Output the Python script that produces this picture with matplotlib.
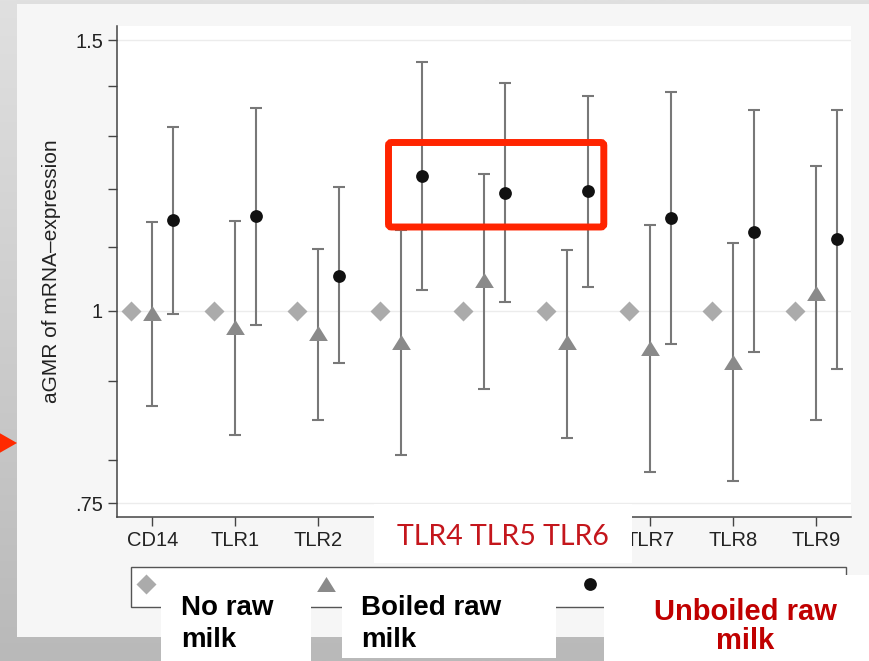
import numpy as np
import matplotlib
matplotlib.use("Agg")
from matplotlib import pyplot as plt
from matplotlib.patches import Rectangle, FancyBboxPatch, Polygon
from matplotlib.colors import LinearSegmentedColormap
from matplotlib.legend import Legend

plt.rcParams['font.family'] = ['Liberation Sans', 'DejaVu Sans']

genes = ["CD14", "TLR1", "TLR2", "TLR4", "TLR5", "TLR6", "TLR7", "TLR8", "TLR9"]

# reference group (no raw milk), aGMR fixed at 1
no_raw = [1.0, 1.0, 1.0, 1.0, 1.0, 1.0, 1.0, 1.0, 1.0]

# boiled raw milk: estimate and 95% CI
boiled = [0.997, 0.977, 0.967, 0.955, 1.048, 0.954, 0.946, 0.927, 1.028]
boiled_lo = [0.867, 0.831, 0.849, 0.806, 0.890, 0.827, 0.786, 0.775, 0.849]
boiled_hi = [1.142, 1.144, 1.098, 1.129, 1.228, 1.096, 1.137, 1.107, 1.242]

# unboiled raw milk: estimate and 95% CI
unboiled = [1.146, 1.152, 1.054, 1.224, 1.193, 1.196, 1.149, 1.126, 1.113]
unboiled_lo = [0.996, 0.979, 0.925, 1.032, 1.013, 1.036, 0.952, 0.940, 0.917]
unboiled_hi = [1.318, 1.355, 1.203, 1.452, 1.407, 1.380, 1.388, 1.350, 1.351]

# genes whose axis labels sit under the red caption box
boxed = ["TLR4", "TLR5", "TLR6"]

W, H = 870, 661
fig = plt.figure(figsize=(W / 100, H / 100), dpi=100)

# slide background
bg = fig.add_axes([0, 0, 1, 1], zorder=-5)
bg.set_xlim(0, W)
bg.set_ylim(H, 0)
bg.axis('off')
grad = np.linspace(0, 1, 256).reshape(-1, 1)
bg_cmap = LinearSegmentedColormap.from_list('bg', ['#e0e0e0', '#cdcdcd', '#b9b9b9'])
bg.imshow(grad, cmap=bg_cmap, extent=(0, W, H, 0), aspect='auto')
bg.add_patch(Rectangle((17, 4), W - 17, 637 - 4, fc='#f6f6f6', ec='none'))
bg.add_patch(Polygon([(-4, 431), (17, 443), (-4, 455)], fc='#ff2a00', ec='none'))

# flattened triangle marker
tri = [(-1, -0.8), (1, -0.8), (0, 0.8), (-1, -0.8)]

# main plot
ax = fig.add_axes([117 / W, 1 - 517 / H, (851 - 117) / W, (517 - 26) / H])
ax.set_facecolor('white')
x = np.arange(len(genes))
off = 0.253

ax.plot(x - off, no_raw, 'D', color='#ababab', ms=10.5, mec='none', zorder=3)
eb1 = ax.errorbar(x, boiled,
                  yerr=[np.subtract(boiled, boiled_lo), np.subtract(boiled_hi, boiled)],
                  fmt='none', ecolor='#787878', elinewidth=1.5, capsize=4.2, capthick=1.5, zorder=2)
tri_line, = ax.plot(x, boiled, ls='none', marker=tri, color='#8a8a8a', ms=13.5, mec='none', zorder=3)
eb2 = ax.errorbar(x + off, unboiled,
                  yerr=[np.subtract(unboiled, unboiled_lo), np.subtract(unboiled_hi, unboiled)],
                  fmt='o', color='#111111', ms=9.2, mec='none',
                  ecolor='#787878', elinewidth=1.5, capsize=4.2, capthick=1.5, zorder=3)

ax.set_yscale('log')
ax.set_ylim(0.7346, 1.532)
ax.set_xlim(-0.425, 8.418)
ax.set_yticks([0.75, 1, 1.5])
ax.set_yticklabels(['.75', '1', '1.5'])
ax.set_yticks([0.8, 0.9, 1.1, 1.2, 1.3, 1.4], minor=True)
ax.yaxis.set_minor_formatter(plt.NullFormatter())
ax.set_xticks(x)
ax.set_xticklabels(genes)
for lab in ax.get_xticklabels():
    if lab.get_text() in boxed:
        lab.set_visible(False)
ax.grid(axis='y', which='major', color='#ececec', lw=1)
ax.set_axisbelow(True)
for s in ['top', 'right']:
    ax.spines[s].set_visible(False)
for s in ['left', 'bottom']:
    ax.spines[s].set_color('#444444')
    ax.spines[s].set_linewidth(1.1)
ax.tick_params(which='both', length=6.5, width=1.0, color='#444444',
               labelsize=14.5, labelcolor='#222222', pad=3.5)
ax.set_ylabel('aGMR of mRNA\u2013expression', fontsize=15, color='#222222', labelpad=10)

# overlay: legend keys, text boxes, highlight frame
ov = fig.add_axes([0, 0, 1, 1], zorder=5)
ov.set_xlim(0, W)
ov.set_ylim(H, 0)
ov.axis('off')

ov.add_patch(Rectangle((131, 567), 846 - 131, 607 - 567, fc='white', ec='#555555', lw=1.0, zorder=2))
handles = [ax.lines[0], tri_line, eb2[0]]
for hx, h in zip([146, 326, 590], handles):
    leg = Legend(ov, [h], [''], loc='center', bbox_to_anchor=(hx, 585),
                 bbox_transform=ov.transData, frameon=False, handlelength=1.0,
                 handletextpad=0, borderpad=0, borderaxespad=0, numpoints=1)
    leg.set_zorder(3)
    ov.add_artist(leg)

# white label boxes
ov.add_patch(Rectangle((374.5, 504), 631.6 - 374.5, 563 - 504, fc='white', ec='none', zorder=6))
ov.add_patch(Rectangle((160.7, 593), 311.4 - 160.7, H - 593, fc='white', ec='none', zorder=6))
ov.add_patch(Rectangle((342, 578), 556 - 342, 658 - 578, fc='white', ec='none', zorder=6))
ov.add_patch(Rectangle((604, 575), W - 604, H - 575, fc='white', ec='none', zorder=6))

ov.text(503, 545, 'TLR4 TLR5 TLR6', ha='center', va='baseline', fontsize=20.5,
        color='#c4161c', family=['Lato', 'DejaVu Sans'], zorder=7)

bold = dict(fontsize=20, fontweight='bold', color='black', va='baseline', ha='left', zorder=7)
ov.text(181, 615, 'No raw', **bold)
ov.text(181, 647, 'milk', **bold)
ov.text(361, 615, 'Boiled raw', **bold)
ov.text(361, 647, 'milk', **bold)
red = dict(fontsize=21, fontweight='bold', color='#c00000', va='baseline', ha='center', zorder=7)
ov.text(745, 620, 'Unboiled raw', **red)
ov.text(745, 649, 'milk', **red)

# highlight frame around TLR4-TLR6
ov.add_patch(FancyBboxPatch((388.5, 142.5), 603.8 - 388.5, 227 - 142.5,
                            boxstyle='round,pad=0,rounding_size=3',
                            fc='none', ec='#ff2400', lw=5.0, zorder=8))

fig.savefig('out.png', dpi=100)
